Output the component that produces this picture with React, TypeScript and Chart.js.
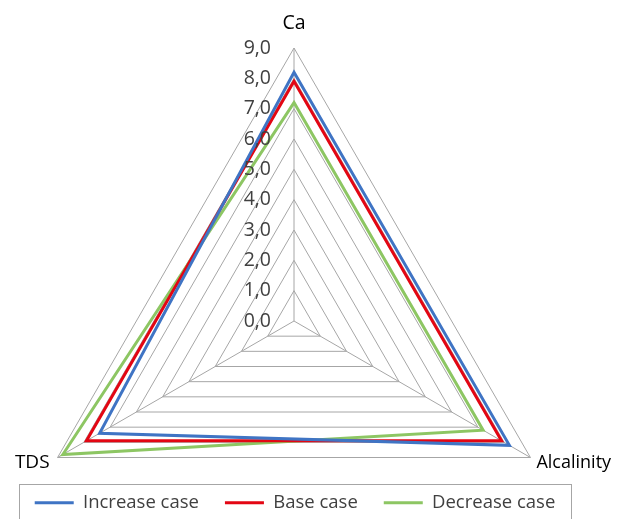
import React, { useEffect, useRef } from 'react';
import { Chart, registerables } from 'chart.js';

Chart.register(...registerables);

const categories = ['Ca', 'Alcalinity', 'TDS'];
const seriesNames = ['Increase case', 'Base case', 'Decrease case'];
const increaseCase = [8.2, 8.2, 7.4];
const baseCase = [7.9, 7.9, 7.9];
const decreaseCase = [7.2, 7.2, 8.8];
const tickLabels = ['0,0', '1,0', '2,0', '3,0', '4,0', '5,0', '6,0', '7,0', '8,0', '9,0'];
const seriesColors = ['#3F74C4', '#E30613', '#8DC663'];

const FONT = '"Open Sans", "DejaVu Sans", sans-serif';

const overlayPlugin = {
  id: 'overlay',
  afterDraw(chart: any) {
    const ctx = chart.ctx;
    const s = chart.scales.r;
    ctx.save();
    // tick labels
    ctx.font = `19.5px ${FONT}`;
    ctx.fillStyle = '#404040';
    ctx.textAlign = 'right';
    ctx.textBaseline = 'middle';
    s.ticks.forEach((t: any) => {
      const d = s.getDistanceFromCenterForValue(t.value);
      ctx.fillText(t.label, s.xCenter - 23, s.yCenter - d);
    });
    // point labels
    ctx.fillStyle = '#000000';
    categories.forEach((c, i) => {
      const p = s.getPointPosition(i, s.drawingArea);
      if (i === 0) {
        ctx.font = `19.5px ${FONT}`;
        ctx.textAlign = 'center';
        ctx.fillText(c, p.x, p.y - 25);
      } else if (i === 1) {
        ctx.font = `18px ${FONT}`;
        ctx.textAlign = 'left';
        ctx.fillText(c, p.x + 6, p.y + 5);
      } else {
        ctx.font = `19px ${FONT}`;
        ctx.textAlign = 'right';
        ctx.fillText(c, p.x - 8, p.y + 5);
      }
    });
    // legend border
    const lg = chart.legend;
    if (lg && lg.legendHitBoxes && lg.legendHitBoxes.length) {
      const hb = lg.legendHitBoxes;
      const first = hb[0];
      const last = hb[hb.length - 1];
      const x0 = first.left - 16;
      const x1 = last.left + last.width + 15;
      const y0 = first.top - 10;
      ctx.strokeStyle = '#A6A6A6';
      ctx.lineWidth = 1;
      ctx.strokeRect(Math.round(x0) + 0.5, Math.round(y0) + 0.5, Math.round(x1 - x0), chart.height);
    }
    ctx.restore();
  },
};

export default function App() {
  const ref = useRef<HTMLCanvasElement | null>(null);
  useEffect(() => {
    document.documentElement.style.overflow = 'hidden';
    const canvas = ref.current;
    if (!canvas) return;
    const chart = new Chart(canvas, {
      type: 'radar',
      data: {
        labels: categories,
        datasets: [increaseCase, baseCase, decreaseCase].map((d, i) => ({
          label: seriesNames[i],
          data: d,
          borderColor: seriesColors[i],
          backgroundColor: seriesColors[i],
          borderWidth: 3,
          fill: false,
          pointRadius: 0,
          pointHoverRadius: 0,
          tension: 0,
        })),
      },
      options: {
        responsive: true,
        maintainAspectRatio: false,
        animation: false,
        layout: { padding: { left: 0, right: 39, top: 0, bottom: 0 } },
        plugins: {
          tooltip: { enabled: false },
          legend: {
            position: 'bottom',
            labels: {
              usePointStyle: true,
              pointStyle: 'line',
              pointStyleWidth: 39,
              padding: 26,
              color: '#404040',
              font: { family: FONT, size: 18.5 },
            },
          },
        },
        scales: {
          r: {
            min: 0,
            max: 9,
            ticks: {
              stepSize: 1,
              display: false,
              callback: (v: any) => tickLabels[Math.round(Number(v))] ?? String(v),
            },
            pointLabels: { display: false },
            grid: { color: '#A6A6A6', lineWidth: 1 },
            angleLines: { color: '#A6A6A6', lineWidth: 1 },
            afterFit: (scale: any) => {
              scale.xCenter = 286;
              scale.yCenter = 313;
              scale.drawingArea = 273;
            },
          },
        },
      },
      plugins: [overlayPlugin],
    } as any);
    return () => chart.destroy();
  }, []);
  return (
    <div style={{ position: 'relative', width: '613px', height: '514px' }}>
      <canvas ref={ref} />
    </div>
  );
}
